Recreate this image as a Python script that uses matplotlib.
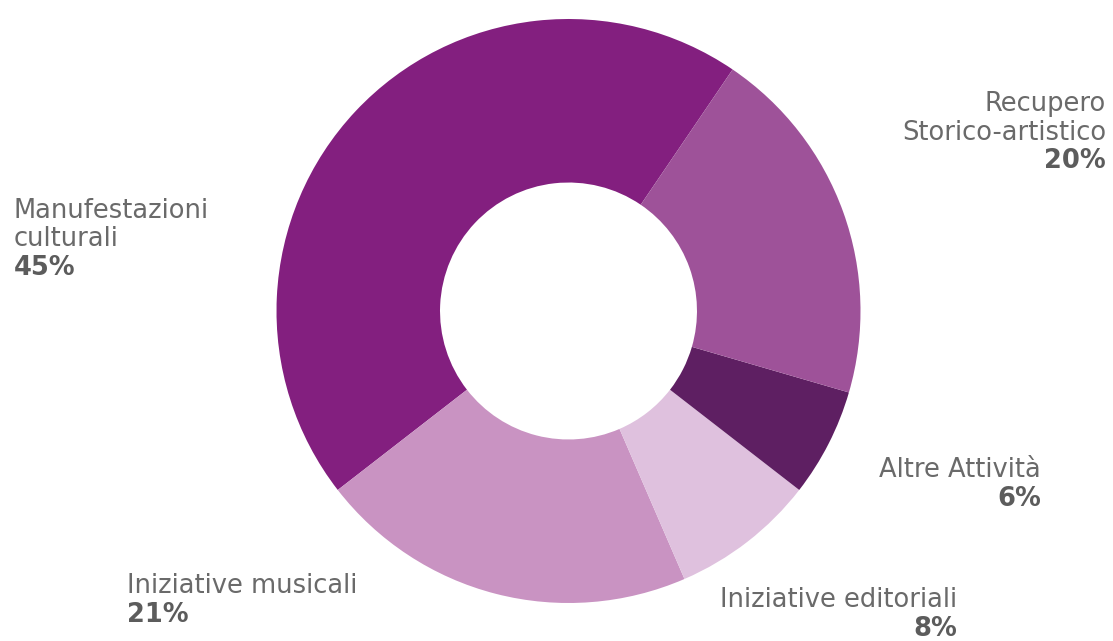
#!/usr/bin/env python3
# Donut chart: distribution of activities (percent)
import matplotlib
matplotlib.use("Agg")
import matplotlib.pyplot as plt

# DATA
categories = ["Manufestazioni\nculturali", "Iniziative musicali", "Iniziative editoriali",
              "Altre Attività", "Recupero\nStorico-artistico"]
values = [45, 21, 8, 6, 20]
colors = ["#831f7f", "#c993c2", "#dfc1de", "#5e1f62", "#9e5299"]

# label anchors in pixel coords (x, baseline y of first line, alignment)
label_pos = [(14, 218, "left"), (127, 593, "left"), (957, 607, "right"),
             (1041, 477, "right"), (1106, 111, "right")]

W, H = 1113, 641
TEXT_COL = "#6a6a6a"
FONT = "DejaVu Sans"
LINE = 28.5

fig = plt.figure(figsize=(W / 100, H / 100), dpi=100)
fig.patch.set_facecolor("white")

# pie axes placed by pixel centre / radius
cx, cy, r = 568.5, 311, 292
ax = fig.add_axes([(cx - r) / W, (H - cy - r) / H, 2 * r / W, 2 * r / H])
ax.pie(values, colors=colors, startangle=55.8, counterclock=True, radius=1,
       wedgeprops=dict(width=0.56, edgecolor="none"))
ax.set_xlim(-1, 1)
ax.set_ylim(-1, 1)
ax.set_aspect("equal")
ax.axis("off")

for cat, val, (px, py, ha) in zip(categories, values, label_pos):
    lines = cat.split("\n")
    for i, ln in enumerate(lines):
        fig.text(px / W, 1 - (py + i * LINE) / H, ln, ha=ha, va="baseline",
                 fontsize=18.5, color=TEXT_COL, family=FONT)
    fig.text(px / W, 1 - (py + len(lines) * LINE) / H, f"{val}%", ha=ha, va="baseline",
             fontsize=18.5, color="#5c5c5c", family=FONT, fontweight="bold")

fig.savefig("out.png", dpi=100)
